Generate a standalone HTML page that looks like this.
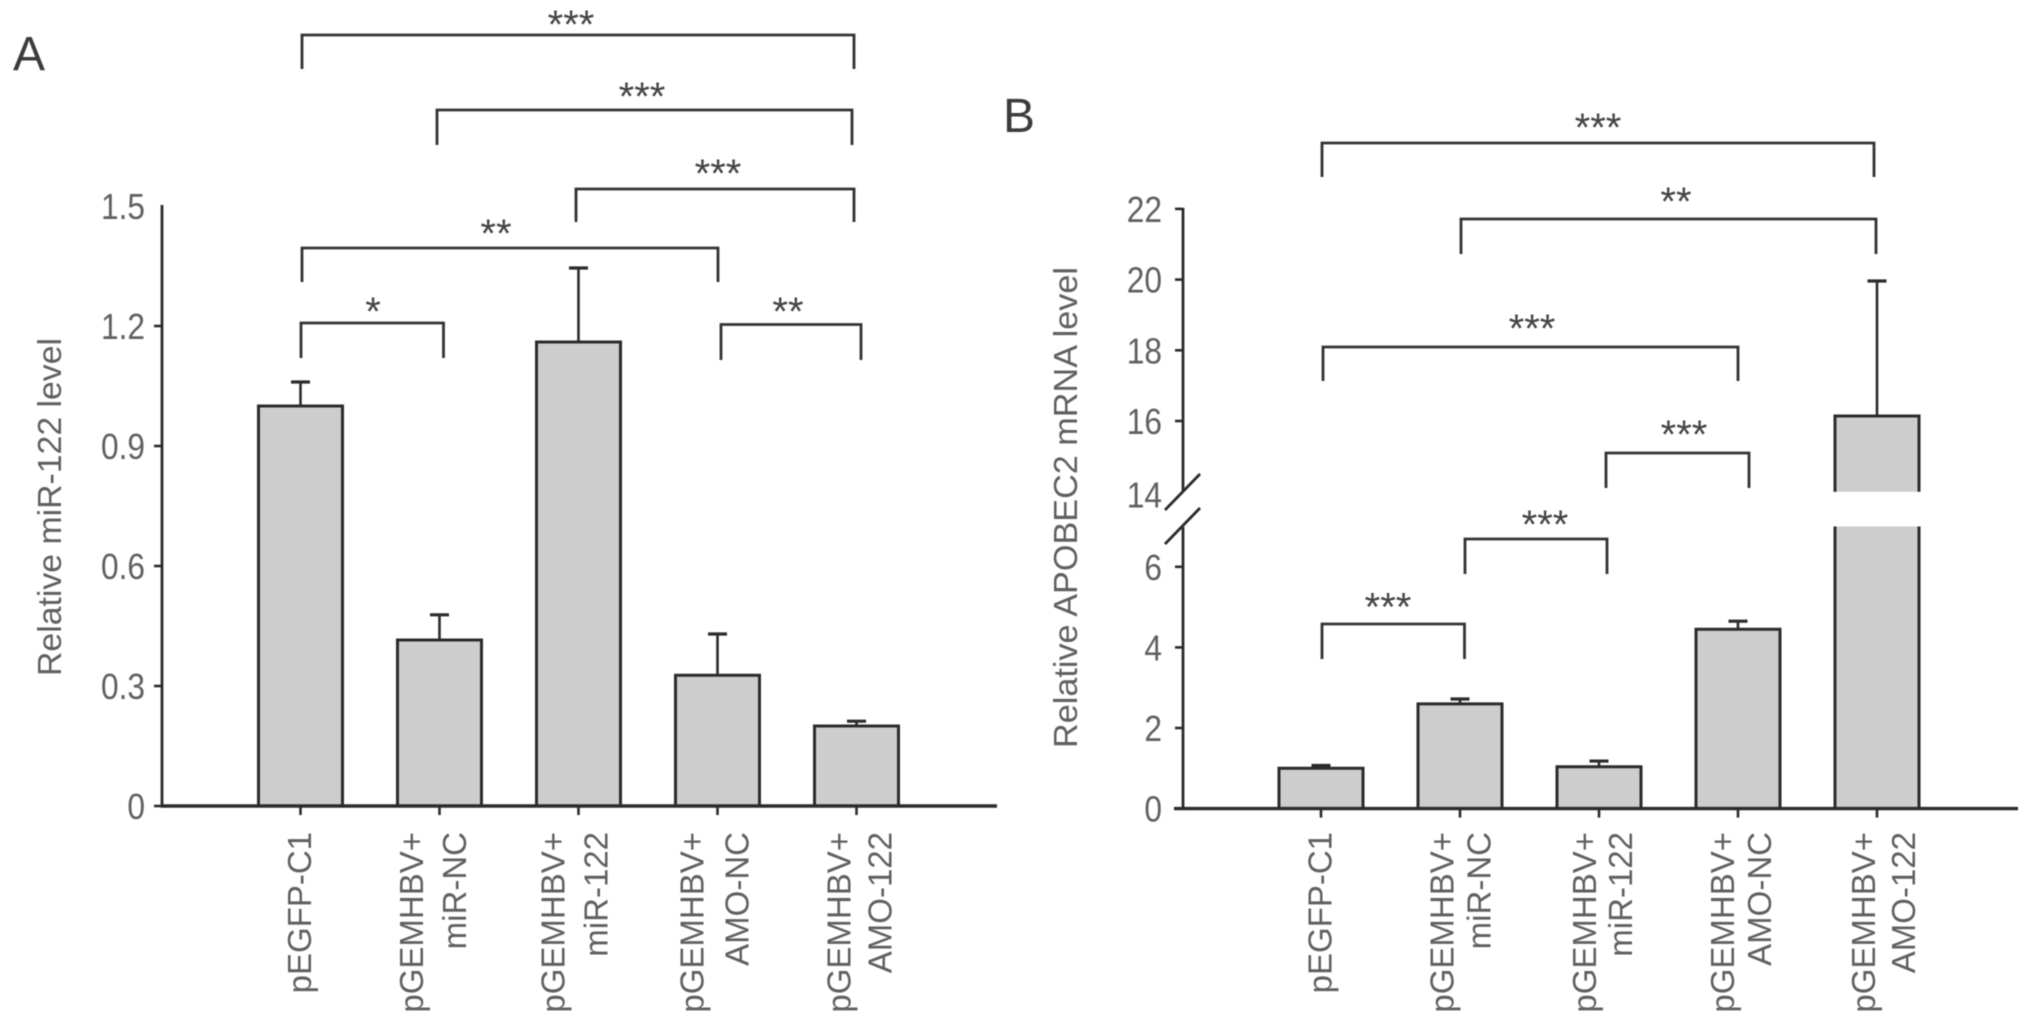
<!DOCTYPE html>
<html lang="en">
<head>
<meta charset="utf-8">
<title>Relative miR-122 and APOBEC2 mRNA levels</title>
<style>
  html, body { margin: 0; padding: 0; background: #fff; }
  svg { display: block; filter: blur(0.6px); }
  text { font-family: "Liberation Sans", sans-serif; fill: #606060; }
  .panel-letter { fill: #3c3c3c; font-size: 48px; }
  .title { font-size: 33px; }
  .stars { font-size: 40px; fill: #444; text-anchor: middle; }
  .bracket { fill: none; stroke: #333; stroke-width: 2.8; }
</style>
</head>
<body>
<svg id="figure" xmlns="http://www.w3.org/2000/svg" width="2032" height="1027" viewBox="0 0 2032 1027">
  <rect x="0" y="0" width="2032" height="1027" fill="#fff"/>

  <g id="panel-a">
    <text class="panel-letter" x="13" y="70">A</text>
    <text class="title" transform="translate(61,676) rotate(-90)" textLength="338" lengthAdjust="spacingAndGlyphs">Relative miR-122 level</text>

    <polyline class="bracket" points="302,69 302,35 854,35 854,69"/>
    <text class="stars" x="571" y="38">***</text>
    <polyline class="bracket" points="437,145 437,110 852,110 852,145"/>
    <text class="stars" x="642" y="110">***</text>
    <polyline class="bracket" points="576,222 576,189 854,189 854,222"/>
    <text class="stars" x="718" y="187">***</text>
    <polyline class="bracket" points="302,282 302,248 718,248 718,282"/>
    <text class="stars" x="496" y="247">**</text>
    <polyline class="bracket" points="301,358 301,323 443.5,323 443.5,358"/>
    <text class="stars" x="373" y="325">*</text>
    <polyline class="bracket" points="721,360 721,324.5 861,324.5 861,360"/>
    <text class="stars" x="788" y="325">**</text>
  </g>

  <g id="panel-b">
    <text class="panel-letter" x="1003" y="132">B</text>
    <text class="title" transform="translate(1077,748) rotate(-90)" textLength="481" lengthAdjust="spacingAndGlyphs">Relative APOBEC2 mRNA level</text>

    <polyline class="bracket" points="1322,177 1322,143 1874,143 1874,177"/>
    <text class="stars" x="1598" y="141">***</text>
    <polyline class="bracket" points="1461,254 1461,219 1876,219 1876,254"/>
    <text class="stars" x="1676" y="215">**</text>
    <polyline class="bracket" points="1323,381 1323,347 1738,347 1738,381"/>
    <text class="stars" x="1532" y="342">***</text>
    <polyline class="bracket" points="1606,488 1606,453 1749,453 1749,488"/>
    <text class="stars" x="1684" y="448">***</text>
    <polyline class="bracket" points="1465,574 1465,539 1607,539 1607,574"/>
    <text class="stars" x="1545" y="538">***</text>
    <polyline class="bracket" points="1322,659 1322,624 1464.5,624 1464.5,659"/>
    <text class="stars" x="1388" y="620.5">***</text>
  </g>
</svg>

<script>
// ---------- Panel A data ----------
var categoriesA = [["pEGFP-C1"], ["pGEMHBV+", "miR-NC"], ["pGEMHBV+", "miR-122"], ["pGEMHBV+", "AMO-NC"], ["pGEMHBV+", "AMO-122"]];
var valuesA = [1.0, 0.415, 1.16, 0.327, 0.2];
var errorsA = [0.06, 0.063, 0.185, 0.103, 0.012];
var tickValuesA = [0, 0.3, 0.6, 0.9, 1.2, 1.5];
var tickLabelsA = ["0", "0.3", "0.6", "0.9", "1.2", "1.5"];

// ---------- Panel B data ----------
var categoriesB = [["pEGFP-C1"], ["pGEMHBV+", "miR-NC"], ["pGEMHBV+", "miR-122"], ["pGEMHBV+", "AMO-NC"], ["pGEMHBV+", "AMO-122"]];
var valuesB = [1.0, 2.6, 1.04, 4.45, 16.14];
var errorsB = [0.07, 0.12, 0.14, 0.2, 3.82];
var tickValuesB = [0, 2, 4, 6, 14, 16, 18, 20, 22];
var tickLabelsB = ["0", "2", "4", "6", "14", "16", "18", "20", "22"];

// ---------- Layout (separate from the data) ----------
var BREAK_LOW = 7;
var BREAK_HIGH = 14;
var BAR_HALF = 42;
var CAP_HALF = 9.5;
var labelNudgeA = [[10.5], [-16.5, 26.5], [-14, 29], [-14, 31], [-6, 35]];
var labelNudgeB = [[10.5], [-6.5, 30.5], [-3, 33], [-4, 33], [-2, 38]];

function xA(i) { return 300.5 + 139 * i; }
function yA(v) { return 806 - v * 400; }
function xB(i) { return 1321 + 139 * i; }
function yB(v) {
  return v <= BREAK_LOW ? 808.6 - v * 40.3 : 421 - (v - 16) * 35.35;
}

var NS = "http://www.w3.org/2000/svg";

function makeLine(parent, x1, y1, x2, y2, width, color) {
  var el = document.createElementNS(NS, "line");
  el.setAttribute("x1", x1);
  el.setAttribute("y1", y1);
  el.setAttribute("x2", x2);
  el.setAttribute("y2", y2);
  el.setAttribute("stroke", color || "#2b2b2b");
  el.setAttribute("stroke-width", width);
  parent.appendChild(el);
  return el;
}

function makeFill(parent, x, top, w, bottom) {
  var el = document.createElementNS(NS, "rect");
  el.setAttribute("x", x);
  el.setAttribute("y", top);
  el.setAttribute("width", w);
  el.setAttribute("height", bottom - top);
  el.setAttribute("fill", "#cdcdcd");
  parent.appendChild(el);
  return el;
}

function makePath(parent, d) {
  var el = document.createElementNS(NS, "path");
  el.setAttribute("d", d);
  el.setAttribute("fill", "none");
  el.setAttribute("stroke", "#2b2b2b");
  el.setAttribute("stroke-width", 3);
  parent.appendChild(el);
  return el;
}

function drawBars(panel, cats, values, errors, x, y) {
  values.forEach(function (v, i) {
    var cx = x(i), l = cx - BAR_HALF, r = cx + BAR_HALF;
    var top = y(v), errTop = y(v + errors[i]), base = y(0);

    var stem = makeLine(panel, cx, top, cx, errTop, 2.6);
    
    
    var cap = makeLine(panel, cx - CAP_HALF, errTop, cx + CAP_HALF, errTop, 3.2);
    
    

    if (v > BREAK_LOW) {
      var lowerFill = makeFill(panel, l, y(BREAK_LOW), 2 * BAR_HALF, base);
      
      
      var upperFill = makeFill(panel, l, top, 2 * BAR_HALF, y(BREAK_HIGH));
      
      
      var brokenOutline = makePath(panel,
        "M" + l + " " + base + "V" + y(BREAK_LOW) +
        "M" + r + " " + y(BREAK_LOW) + "V" + base +
        "M" + l + " " + y(BREAK_HIGH) + "V" + top + "H" + r + "V" + y(BREAK_HIGH));
      
      
    } else {
      var barFill = makeFill(panel, l, top, 2 * BAR_HALF, base);
      
      
      var outline = makePath(panel, "M" + l + " " + base + "V" + top + "H" + r + "V" + base);
      
      
    }

    var tick = makeLine(panel, cx, base, cx, base + 9, 2.6);
    
    
  });
}

function drawYTicks(panel, vals, labels, y, axisX, labelX, fontSize, skipTickValue) {
  vals.forEach(function (v, i) {
    var labelY = y(v) + fontSize * 0.36;
    if (v !== skipTickValue) {
      var tick = makeLine(panel, axisX - 8, y(v), axisX, y(v), 2.6);
      
      
    } else if (v === BREAK_HIGH) {
      labelY += 3;
    }
    var t = document.createElementNS(NS, "text");
    t.setAttribute("transform", "translate(" + labelX + "," + labelY + ") scale(0.88,1)");
    t.setAttribute("text-anchor", "end");
    t.setAttribute("font-size", fontSize);
    t.textContent = labels[i];
    
    
    panel.appendChild(t);
  });
}

function drawCategoryLabels(panel, cats, x, nudges, topY) {
  cats.forEach(function (lines, i) {
    lines.forEach(function (line, j) {
      var t = document.createElementNS(NS, "text");
      t.setAttribute("transform", "translate(" + (x(i) + nudges[i][j]) + "," + topY + ") rotate(-90)");
      t.setAttribute("text-anchor", "end");
      t.setAttribute("font-size", 33);
      t.textContent = line;
      
      
      panel.appendChild(t);
    });
  });
}

var panelA = document.getElementById("panel-a");
var panelB = document.getElementById("panel-b");

// Panel A
drawBars(panelA, categoriesA, valuesA, errorsA, xA, yA);
var yAxisA = makeLine(panelA, 162, yA(1.5) - 1, 162, yA(0) + 1.5, 2.8);


var xAxisA = makeLine(panelA, 161, yA(0), 997, yA(0), 3.4);


drawYTicks(panelA, tickValuesA, tickLabelsA, yA, 162, 145, 36, 1.5);
drawCategoryLabels(panelA, categoriesA, xA, labelNudgeA, 832);

// Panel B
drawBars(panelB, categoriesB, valuesB, errorsB, xB, yB);
var yAxisUpperB = makeLine(panelB, 1183, yB(22) - 1, 1183, 492, 2.8);


var yAxisLowerB = makeLine(panelB, 1183, 527, 1183, yB(0) + 1.5, 2.8);


var breakUpperB = makeLine(panelB, 1165, 510, 1200, 474, 2.8);


var breakLowerB = makeLine(panelB, 1165, 544, 1200, 508, 2.8);


var xAxisB = makeLine(panelB, 1174, yB(0), 2018, yB(0), 3.4);


drawYTicks(panelB, tickValuesB, tickLabelsB, yB, 1183, 1162, 36, 14);
drawCategoryLabels(panelB, categoriesB, xB, labelNudgeB, 832);
</script>
</body>
</html>
